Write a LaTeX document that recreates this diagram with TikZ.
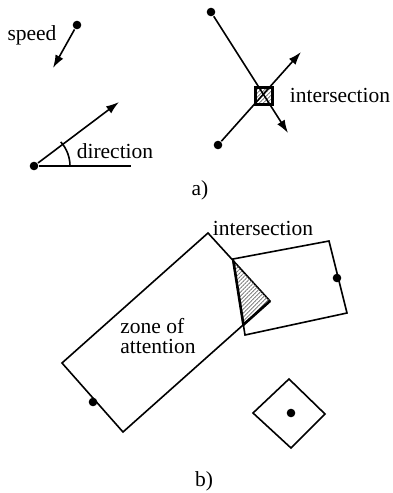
\documentclass[tikz,border=0pt]{standalone}
\usepackage{fontspec}
\setmainfont{Liberation Serif}
\usetikzlibrary{arrows.meta,patterns.meta}

\begin{document}
\begin{tikzpicture}[x=0.5pt,y=-0.5pt,line width=0.8pt,
  every node/.style={font=\fontsize{10.75}{10.2}\selectfont},
  dot/.style={circle,fill,inner sep=0pt,minimum size=4.3pt},
  vec/.style={-{Latex[length=6.5pt,width=4.4pt]}},
  hatch/.style={pattern={Lines[angle=45,distance=1.4pt,line width=0.35pt]},pattern color=black!60}]
\useasboundingbox (0,0) rectangle (392,493);
% a) speed
\node[dot] (sp) at (77,25) {};
\coordinate (spE) at (53,68);
\draw[vec] (sp) -- (spE);
\node (speed) at (32,35) {speed};
% a) direction
\node[dot] (dir) at (34,166) {};
\coordinate (dirH) at (131,166);
\coordinate (dirE) at (119,102);
\draw (dir) -- (dirH);
\draw[vec] (dir) -- (dirE);
\draw (dir.center) ++(36,0) arc[start angle=0,end angle=-42,radius=36];
\node (direction) at (115,151) {direction};
% a) intersection
\node[draw,line width=1.1pt,hatch,minimum size=8.5pt,inner sep=0pt] (isq) at (264,96) {};
\node[dot] (p1) at (211,12) {};
\node[dot] (p2) at (218,145) {};
\coordinate (e1) at (288,133);
\coordinate (e2) at (301,52);
\draw[vec] (p1) -- (e1);
\draw[vec] (p2) -- (e2);
\node (isqlab) at (340,95) {intersection};
\node (la) at (200,190) {a)};

% b) zone of attention
\coordinate (zT) at (208,233);
\coordinate (zR) at (270,301);
\coordinate (zB) at (123,432);
\coordinate (zL) at (62,363);
\draw (zT) -- (zR) -- (zB) -- (zL) -- cycle;
\node[dot] (zd) at (93,402) {};
\node[align=left] (zone) at (158,336) {zone of\\attention};
% b) other car
\coordinate (cTL) at (233,259);
\coordinate (cTR) at (329,241);
\coordinate (cBR) at (347,313);
\coordinate (cBL) at (245,335);
\draw (cTL) -- (cTR) -- (cBR) -- (cBL) -- cycle;
\node[dot] (cd) at (337,278) {};
\coordinate (iT) at (intersection of zT--zR and cTL--cBL);
\coordinate (iB) at (intersection of zB--zR and cTL--cBL);
\fill[hatch] (iT) -- (zR) -- (iB) -- cycle;
\draw[line width=1.3pt,line join=round] (iT) -- (iB) -- (zR);
\node (ilab) at (263,228) {intersection};
% b) diamond
\coordinate (dT) at (289,379);
\coordinate (dR) at (325,414);
\coordinate (dB) at (291,448);
\coordinate (dL) at (253,413);
\draw (dT) -- (dR) -- (dB) -- (dL) -- cycle;
\node[dot] (dd) at (291,413) {};
\node (lb) at (204,481) {b)};
\end{tikzpicture}
\end{document}
